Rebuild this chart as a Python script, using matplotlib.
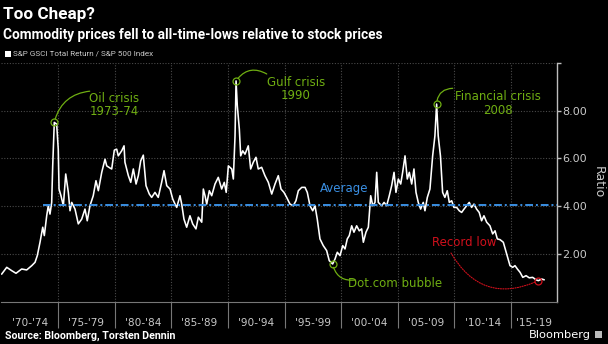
import matplotlib
matplotlib.use("Agg")
import matplotlib.pyplot as plt
from matplotlib.patches import Rectangle

# ---- data ----
years = [1970.03, 1970.47, 1970.91, 1971.29, 1971.79, 1972.23, 1972.68, 1972.97, 1973.17, 1973.41,
         1973.65, 1973.79, 1974.00, 1974.14, 1974.29, 1974.44, 1974.53, 1974.67, 1974.88, 1975.02,
         1975.09, 1975.26, 1975.47, 1975.68, 1975.91, 1976.06, 1976.21, 1976.50, 1976.79, 1977.09,
         1977.38, 1977.58, 1977.82, 1978.11, 1978.35, 1978.56, 1978.86, 1979.15, 1979.30, 1979.59,
         1979.74, 1979.97, 1980.18, 1980.32, 1980.62, 1980.83, 1980.91, 1981.21, 1981.42, 1981.65,
         1981.89, 1982.09, 1982.30, 1982.53, 1982.77, 1983.06, 1983.27, 1983.56, 1983.85, 1984.15,
         1984.36, 1984.60, 1984.89, 1985.13, 1985.33, 1985.48, 1985.77, 1985.92, 1986.12, 1986.36,
         1986.65, 1986.89, 1987.18, 1987.39, 1987.69, 1987.83, 1987.98, 1988.13, 1988.36, 1988.57,
         1988.86, 1989.15, 1989.45, 1989.68, 1989.85, 1990.04, 1990.34, 1990.48, 1990.63, 1990.72,
         1990.83, 1991.01, 1991.13, 1991.31, 1991.51, 1991.80, 1992.01, 1992.24, 1992.48, 1992.68,
         1992.98, 1993.27, 1993.57, 1993.87, 1994.16, 1994.45, 1994.69, 1994.95, 1995.19, 1995.48,
         1995.77, 1996.01, 1996.22, 1996.52, 1996.81, 1997.01, 1997.25, 1997.49, 1997.69, 1997.89,
         1998.13, 1998.42, 1998.72, 1998.95, 1999.25, 1999.46, 1999.66, 1999.90, 2000.14, 2000.34,
         2000.54, 2000.72, 2000.93, 2001.13, 2001.37, 2001.60, 2001.81, 2001.96, 2002.19, 2002.40,
         2002.61, 2002.79, 2002.99, 2003.14, 2003.28, 2003.58, 2003.79, 2004.02, 2004.25, 2004.46,
         2004.67, 2004.84, 2005.05, 2005.26, 2005.43, 2005.64, 2005.84, 2006.02, 2006.23, 2006.43,
         2006.61, 2006.81, 2007.02, 2007.25, 2007.40, 2007.61, 2007.84, 2008.08, 2008.28, 2008.43,
         2008.57, 2008.77, 2008.96, 2009.16, 2009.37, 2009.55, 2009.76, 2009.96, 2010.20, 2010.43,
         2010.64, 2010.85, 2011.08, 2011.31, 2011.52, 2011.73, 2011.96, 2012.19, 2012.40, 2012.61,
         2012.85, 2013.14, 2013.38, 2013.59, 2013.79, 2014.03, 2014.32, 2014.62, 2014.91, 2015.15,
         2015.35, 2015.56, 2015.80, 2016.04, 2016.33, 2016.61, 2016.91, 2017.20, 2017.41, 2017.71,
         2017.91]
ratio = [1.16, 1.44, 1.30, 1.19, 1.37, 1.33, 1.51, 1.65, 1.93, 2.49,
         3.12, 2.77, 3.60, 4.02, 3.67, 4.16, 5.69, 7.51, 7.44, 6.39,
         4.72, 4.44, 4.02, 5.35, 4.58, 3.81, 4.16, 3.88, 3.26, 3.46,
         3.88, 3.39, 4.02, 4.44, 5.07, 4.65, 5.42, 5.97, 5.69, 5.60,
         5.56, 6.35, 6.39, 6.11, 6.32, 6.53, 5.84, 5.28, 5.00, 5.56,
         4.93, 5.28, 5.90, 6.14, 4.86, 4.51, 4.37, 4.58, 4.37, 5.00,
         5.49, 4.86, 4.72, 4.30, 4.09, 3.95, 4.44, 4.09, 3.46, 3.12,
         3.60, 3.26, 3.05, 3.54, 3.33, 4.72, 4.44, 4.09, 4.65, 4.44,
         4.93, 5.21, 4.72, 5.00, 4.58, 5.69, 5.56, 5.14, 6.95, 9.25,
         8.21, 7.23, 6.11, 6.32, 6.18, 6.53, 5.56, 5.84, 6.05, 5.56,
         5.63, 5.28, 5.00, 4.51, 4.93, 5.28, 4.72, 4.58, 4.37, 4.09,
         4.02, 4.23, 4.65, 4.79, 4.79, 4.58, 4.02, 3.81, 4.02, 3.46,
         2.63, 2.35, 2.14, 1.72, 1.58, 1.79, 2.07, 1.93, 2.35, 2.21,
         2.63, 2.77, 3.18, 2.91, 3.18, 2.97, 3.05, 2.49, 2.91, 3.12,
         4.44, 4.02, 4.16, 5.42, 4.16, 4.02, 4.16, 4.02, 4.44, 4.86,
         5.42, 4.58, 5.14, 4.93, 5.42, 6.11, 5.14, 5.42, 4.93, 5.56,
         4.58, 4.16, 3.88, 4.16, 3.81, 4.37, 4.72, 6.11, 6.95, 8.28,
         6.95, 6.10, 4.58, 4.37, 4.65, 4.16, 4.23, 3.95, 3.95, 3.81,
         3.74, 3.88, 4.02, 4.16, 3.95, 4.09, 3.88, 3.74, 3.39, 3.60,
         3.33, 3.18, 2.84, 2.97, 2.63, 2.60, 2.49, 2.00, 1.51, 1.44,
         1.51, 1.37, 1.23, 1.02, 1.09, 1.00, 1.02, 0.92, 0.88, 0.95,
         0.92]

average_value = 4.07
average_start = 1973.67

period_labels = ["'70-'74", "'75-'79", "'80-'84", "'85-'89", "'90-'94",
                 "'95-'99", "'00-'04", "'05-'09", "'10-'14", "'15-'19"]
period_label_pos = [1972.5, 1977.5, 1982.5, 1987.5, 1992.5,
                    1997.5, 2002.5, 2007.5, 2012.5, 2017.03]
period_bounds = [1975, 1980, 1985, 1990, 1995, 2000, 2005, 2010, 2015]
y_ticks = [2, 4, 6, 8, 10]
y_tick_labels = ["2.00", "4.00", "6.00", "8.00", ""]

# events: (label, point x, point y, text x, text y, connector end x, end y)
oil = ("Oil crisis\n1973-74", 1974.67, 7.51, 1979.94, 8.24, 1977.8, 8.82)
gulf = ("Gulf crisis\n1990", 1990.72, 9.25, 1996.0, 8.91, 1993.43, 9.54)
fin = ("Financial crisis\n2008", 2008.43, 8.28, 2013.85, 8.30, 2009.85, 8.94)
dot = ("Dot.com bubble", 1999.25, 1.58, 2004.75, 0.77, 2001.22, 0.91)
low = ("Record low", 2017.41, 0.88, 2010.89, 2.47, 2009.7, 2.04)

# ---- styling ----
W, H = 608, 344
BG = "black"
GREEN = "#6fae12"
RED = "#d0101c"
BLUE = "#3a8fe3"
GRID = "#4a4a4a"
AXC = "#bdbdbd"
TXT = "#c8c8c8"
NARROW = "Roboto"

fig = plt.figure(figsize=(W / 100, H / 100), dpi=100, facecolor=BG)

def fx(px):
    return px / W

def fy(py):
    return 1 - py / H

ax_left, ax_right, ax_top, ax_bottom = 1.4, 557, 63, 301.7
ax = fig.add_axes([fx(ax_left), fy(ax_bottom), (ax_right - ax_left) / W, (ax_bottom - ax_top) / H])
ax.set_facecolor(BG)
ax.set_xlim(1970, 2019.06)
ax.set_ylim(0, 10)

# grid
for b in period_bounds:
    ax.axvline(b, color=GRID, lw=0.8, ls=(0, (1, 1.5)), zorder=1)
for t in y_ticks:
    ax.axhline(t, color=GRID, lw=0.8, ls=(0, (1, 1.5)), zorder=1)

# series
ax.plot(years, ratio, color="white", lw=1.15, zorder=3)

# average
ax.plot([average_start, 2019.06], [average_value, average_value], color=BLUE, lw=1.4,
        ls=(0, (4, 1.5, 1, 1.5)), zorder=4)
ax.text(2000.25, average_value + 0.68, "Average", color=BLUE, fontsize=8.5, ha="center", va="center")

# spines / ticks
for s in ["left", "top"]:
    ax.spines[s].set_visible(False)
ax.spines["right"].set_color(AXC)
ax.spines["bottom"].set_color("#777777")
ax.spines["right"].set_linewidth(1.0)
ax.yaxis.tick_right()
ax.set_yticks(y_ticks)
ax.set_yticklabels(y_tick_labels)
ax.tick_params(axis="y", colors=AXC, labelcolor=TXT, length=3, width=1, pad=0.8, labelsize=8)

ax.set_xticks(period_bounds)
ax.set_xticklabels([""] * len(period_bounds))
ax.tick_params(axis="x", which="major", colors="#777777", length=19, width=0.8)
ax.set_xticks(period_label_pos, minor=True)
ax.set_xticklabels(period_labels, minor=True)
ax.tick_params(axis="x", which="minor", length=0, pad=12, labelsize=7.6, labelcolor=TXT)

fig.text(fx(598), fy(182), "Ratio", rotation=270, color=TXT, fontsize=9, ha="center", va="center")

# annotations
def event(ev, color, rad, ls="-", lw=0.9):
    label, px, py, tx, ty, ex, ey = ev
    ax.plot([px], [py], marker="o", ms=5, mfc="none", mec=color, mew=0.9, zorder=5)
    ax.annotate("", xy=(px, py), xytext=(ex, ey),
                arrowprops=dict(arrowstyle="-", color=color, lw=lw, ls=ls,
                                connectionstyle=f"arc3,rad={rad}", shrinkA=0, shrinkB=2.5),
                zorder=5)
    ax.text(tx, ty, label, color=color, fontsize=8.5, ha="center", va="center",
            linespacing=1.05, zorder=6)

event(oil, GREEN, 0.35)
event(gulf, GREEN, 0.45)
event(fin, GREEN, 0.45)
event(dot, GREEN, -0.45)
event(low, RED, 0.45, ls=(0, (1, 1.2)), lw=0.8)

# titles
fig.text(fx(3), fy(15), "Too Cheap?", color="white", fontsize=12.3, fontweight="bold",
         ha="left", va="center", family=NARROW)
fig.text(fx(3), fy(35), "Commodity prices fell to all-time-lows relative to stock prices",
         color="white", fontsize=9.8, fontweight="bold", ha="left", va="center", family=NARROW)
fig.patches.append(Rectangle((fx(5), fy(57)), 6 / W, 6 / H, transform=fig.transFigure,
                             facecolor="white", edgecolor="none"))
fig.text(fx(13), fy(54), "S&P GSCI Total Return / S&P 500 Index", color=TXT, fontsize=5.9,
         ha="left", va="center", family=NARROW)

fig.text(fx(5), fy(336), "Source: Bloomberg, Torsten Dennin", color="white", fontsize=7.7,
         fontweight="bold", ha="left", va="center", family=NARROW)
fig.text(fx(591), fy(335), "Bloomberg", color="white", fontsize=8.2, ha="right", va="center")
fig.patches.append(Rectangle((fx(595), fy(338)), 7 / W, 7 / H, transform=fig.transFigure,
                             facecolor="#bbbbbb", edgecolor="none"))

fig.savefig("out.png", dpi=100, facecolor=BG)
